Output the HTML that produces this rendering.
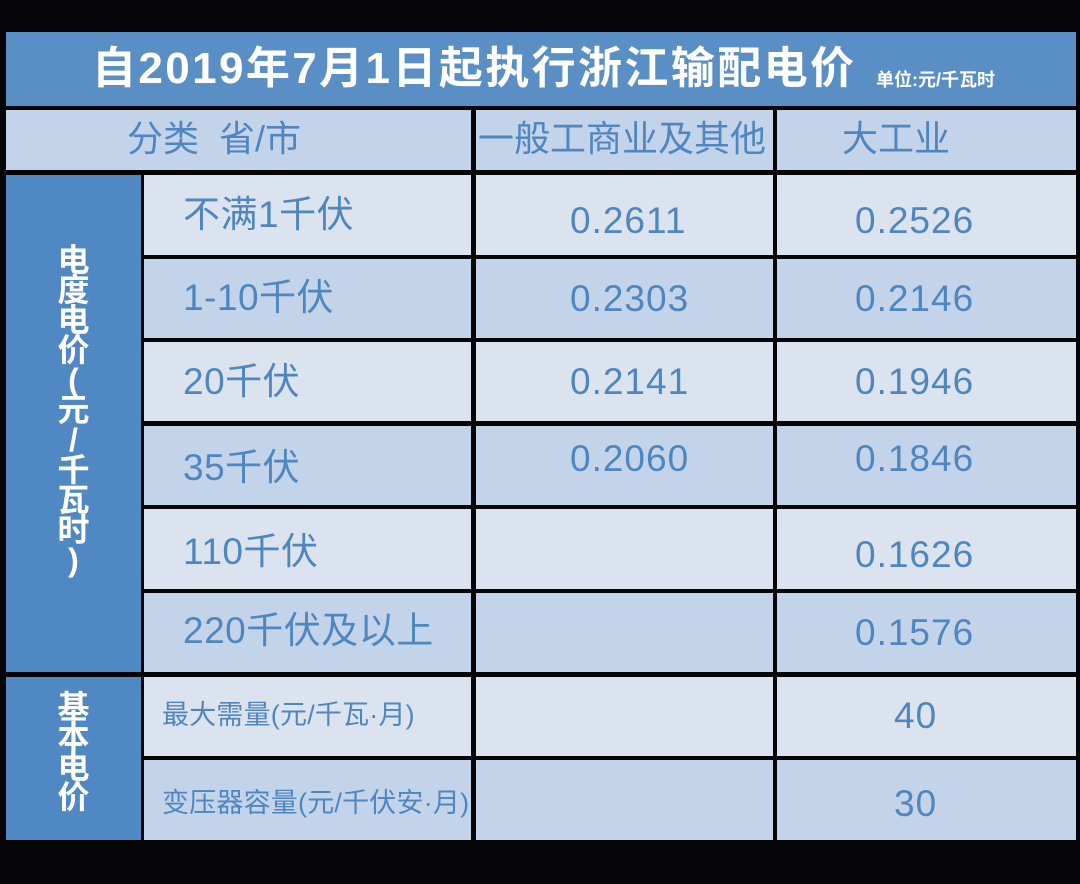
<!DOCTYPE html>
<html><head><meta charset="utf-8"><style>
body{margin:0;width:1080px;height:884px;background:#050508;position:relative;overflow:hidden;font-family:"Liberation Sans","Noto Sans CJK SC",sans-serif;}
.b{position:absolute;box-sizing:border-box;}
.t{position:absolute;white-space:nowrap;color:#4f86bf;font-size:37px;line-height:1;}
.n{font-size:37px;letter-spacing:1px;}
.L{background:#dbe3ee}.D{background:#c3d4ea}
.v{position:absolute;color:#fff;font-weight:bold;font-size:32px;text-align:center;width:135px;left:6px;}
.v span{display:block;height:30px;line-height:30px;}
</style></head><body>
<div class="b" style="left:6px;top:32px;width:1070px;height:74px;background:#5a8fc5"></div>
<div class="t" style="left:92px;top:47px;color:#fff;font-weight:bold;font-size:44px;letter-spacing:2.4px;">自2019年7月1日起执行浙江输配电价</div>
<div class="t" style="left:876px;top:71px;color:#fff;font-weight:bold;font-size:18px;">单位:元/千瓦时</div>

<div class="b D" style="left:6px;top:110px;width:465px;height:60px"></div>
<div class="b D" style="left:476px;top:110px;width:297px;height:60px"></div>
<div class="b D" style="left:777px;top:110px;width:299px;height:60px"></div>
<div class="t" style="left:127px;top:121px;font-size:36px;">分类&nbsp;&nbsp;省/市</div>
<div class="t" style="left:478px;top:121px;font-size:36px;">一般工商业及其他</div>
<div class="t" style="left:842px;top:121px;font-size:36px;">大工业</div>

<div class="b" style="left:6px;top:175px;width:135px;height:497px;background:#4f88c3"></div>
<div class="b" style="left:6px;top:677px;width:135px;height:163px;background:#4f88c3"></div>
<div class="v" style="top:245px"><span>电</span><span>度</span><span>电</span><span>价</span><span>(</span><span>元</span><span>/</span><span>千</span><span>瓦</span><span>时</span><span>)</span></div>
<div class="v" style="top:692px"><span>基</span><span>本</span><span>电</span><span>价</span></div>

<div class="b L" style="left:144px;top:175px;width:327px;height:80px"></div><div class="b L" style="left:476px;top:175px;width:297px;height:80px"></div><div class="b L" style="left:777px;top:175px;width:299px;height:80px"></div>
<div class="b D" style="left:144px;top:259px;width:327px;height:79px"></div><div class="b D" style="left:476px;top:259px;width:297px;height:79px"></div><div class="b D" style="left:777px;top:259px;width:299px;height:79px"></div>
<div class="b L" style="left:144px;top:342px;width:327px;height:79px"></div><div class="b L" style="left:476px;top:342px;width:297px;height:79px"></div><div class="b L" style="left:777px;top:342px;width:299px;height:79px"></div>
<div class="b D" style="left:144px;top:426px;width:327px;height:79px"></div><div class="b D" style="left:476px;top:426px;width:297px;height:79px"></div><div class="b D" style="left:777px;top:426px;width:299px;height:79px"></div>
<div class="b L" style="left:144px;top:509px;width:327px;height:80px"></div><div class="b L" style="left:476px;top:509px;width:297px;height:80px"></div><div class="b L" style="left:777px;top:509px;width:299px;height:80px"></div>
<div class="b D" style="left:144px;top:593px;width:327px;height:79px"></div><div class="b D" style="left:476px;top:593px;width:297px;height:79px"></div><div class="b D" style="left:777px;top:593px;width:299px;height:79px"></div>
<div class="b L" style="left:144px;top:677px;width:327px;height:79px"></div><div class="b L" style="left:476px;top:677px;width:297px;height:79px"></div><div class="b L" style="left:777px;top:677px;width:299px;height:79px"></div>
<div class="b D" style="left:144px;top:760px;width:327px;height:80px"></div><div class="b D" style="left:476px;top:760px;width:297px;height:80px"></div><div class="b D" style="left:777px;top:760px;width:299px;height:80px"></div>

<div class="t" style="left:183px;top:196px;letter-spacing:0.5px;">不满1千伏</div>
<div class="t" style="left:183px;top:279px;letter-spacing:0.5px;">1-10千伏</div>
<div class="t" style="left:183px;top:363px;letter-spacing:0.5px;">20千伏</div>
<div class="t" style="left:183px;top:449px;letter-spacing:0.5px;">35千伏</div>
<div class="t" style="left:183px;top:533px;letter-spacing:0.5px;">110千伏</div>
<div class="t" style="left:183px;top:612px;letter-spacing:0.5px;">220千伏及以上</div>
<div class="t" style="left:162px;top:702px;font-size:27px;letter-spacing:0.2px;">最大需量(元/千瓦·月)</div>
<div class="t" style="left:162px;top:790px;font-size:27px;letter-spacing:0.2px;">变压器容量(元/千伏安·月)</div>

<div class="t n" style="left:570px;top:202px;">0.2611</div>
<div class="t n" style="left:570px;top:280px;">0.2303</div>
<div class="t n" style="left:570px;top:363px;">0.2141</div>
<div class="t n" style="left:570px;top:440px;">0.2060</div>
<div class="t n" style="left:855px;top:202px;">0.2526</div>
<div class="t n" style="left:855px;top:280px;">0.2146</div>
<div class="t n" style="left:855px;top:363px;">0.1946</div>
<div class="t n" style="left:855px;top:440px;">0.1846</div>
<div class="t n" style="left:855px;top:536px;">0.1626</div>
<div class="t n" style="left:855px;top:614px;">0.1576</div>
<div class="t n" style="left:894px;top:697px;">40</div>
<div class="t n" style="left:894px;top:785px;">30</div>
</body></html>
